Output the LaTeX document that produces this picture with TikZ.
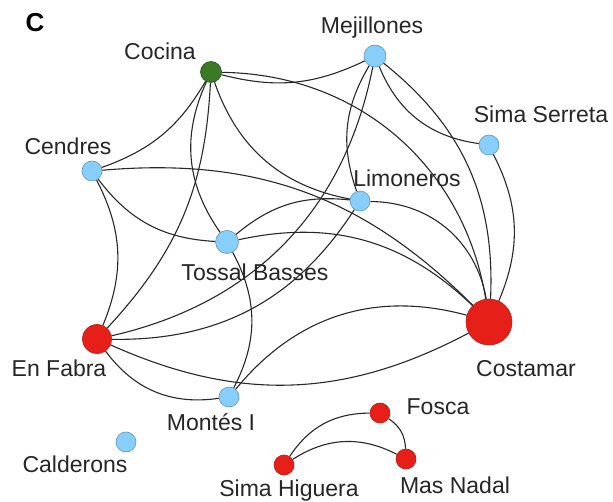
\documentclass[tikz,border=0pt]{standalone}
\usepackage{fontspec}
\setmainfont{Liberation Sans}
\usetikzlibrary{positioning}
\definecolor{siteblue}{RGB}{135,206,250}
\definecolor{siteblueedge}{RGB}{95,150,190}
\definecolor{sitered}{RGB}{230,32,24}
\definecolor{siterededge}{RGB}{180,30,20}
\definecolor{sitegreen}{RGB}{58,122,38}
\definecolor{linkgray}{RGB}{40,40,40}

\begin{document}
\begin{tikzpicture}[
    x=1pt, y=-1pt,
    site/.style={circle, inner sep=0pt, minimum size=20pt, line width=0.6pt},
    bluesite/.style={site, fill=siteblue, draw=siteblueedge},
    redsite/.style={site, fill=sitered, draw=siterededge},
    greensite/.style={site, fill=sitegreen, draw=sitegreen!70!black},
    lbl/.style={font=\fontsize{23}{26}\selectfont, text=black!85, inner sep=0pt},
    link/.style={line width=1.1pt, color=linkgray},
]
\useasboundingbox (0,0) rectangle (613,502);

% --- panel letter ---
\node[font=\fontsize{26}{28}\selectfont\bfseries, inner sep=0pt] (panel) at (35,23) {C};

% --- sites ---
\node[greensite, minimum size=21pt] (cocina) at (211,72) {};
\node[bluesite, minimum size=22pt] (mejillones) at (375,56) {};
\node[bluesite] (serreta) at (489,145) {};
\node[bluesite] (cendres) at (92,171) {};
\node[bluesite] (limoneros) at (360,201) {};
\node[bluesite, minimum size=23pt] (tossal) at (227,242) {};
\node[redsite, minimum size=29pt] (fabra) at (97,339) {};
\node[redsite, minimum size=46pt] (costamar) at (489,322) {};
\node[bluesite] (montes) at (229,397) {};
\node[bluesite] (calderons) at (126,442) {};
\node[redsite] (fosca) at (380,413) {};
\node[redsite] (higuera) at (284,465) {};
\node[redsite] (nadal) at (406,459) {};

% --- site names ---
\node[lbl] (cocina_l) at (160,51) {Cocina};
\node[lbl] (mejillones_l) at (372,28) {Mejillones};
\node[lbl] (serreta_l) at (541,114) {Sima Serreta};
\node[lbl] (cendres_l) at (68,146) {Cendres};
\node[lbl] (limoneros_l) at (407,178) {Limoneros};
\node[lbl] (tossal_l) at (255,272) {Tossal Basses};
\node[lbl] (fabra_l) at (59,368) {En Fabra};
\node[lbl] (costamar_l) at (526,369) {Costamar};
\node[lbl] (montes_l) at (211,422) {Montés I};
\node[lbl] (calderons_l) at (75,464) {Calderons};
\node[lbl] (fosca_l) at (438,407) {Fosca};
\node[lbl] (nadal_l) at (455,485) {Mas Nadal};
\node[lbl] (higuera_l) at (289,491) {Sima Higuera};

% ---- links ----
\draw[link] (cocina) to[bend right=20] (mejillones);
\draw[link] (cocina) to[bend left=40] (costamar);
\draw[link] (cocina) to[bend left=20] (cendres);
\draw[link] (cocina) to[bend left=20] (fabra);
\draw[link] (cocina) to[bend right=30] (tossal);
\draw[link] (cocina) to[bend right=30] (limoneros);
\draw[link] (cendres) to[bend left=25] (costamar);
\draw[link] (cendres) to[bend right=25] (tossal);
\draw[link] (cendres) to[bend left=25] (fabra);
\draw[link] (mejillones) to[bend right=25] (limoneros);
\draw[link] (mejillones) to[bend left=33] (fabra);
\draw[link] (mejillones) to[bend right=30] (serreta);
\draw[link] (mejillones) to[bend left=27] (costamar);
\draw[link] (serreta) to[bend left=25] (costamar);
\draw[link] (limoneros) to[bend left=40] (costamar);
\draw[link] (limoneros) to[bend left=29] (fabra);
\draw[link] (tossal) to[bend left=23] (limoneros);
\draw[link] (tossal) to[bend left=28] (costamar);
\draw[link] (tossal) to[bend left=28] (montes);
\draw[link] (fabra) to[bend right=26] (costamar);
\draw[link] (fabra) to[bend right=31] (montes);
\draw[link] (montes) to[bend left=33] (costamar);
\draw[link] (higuera) to[bend left=28] (fosca);
\draw[link] (higuera) to[bend left=30] (nadal);
\draw[link] (fosca) to[bend left=27] (nadal);

\end{tikzpicture}
\end{document}
